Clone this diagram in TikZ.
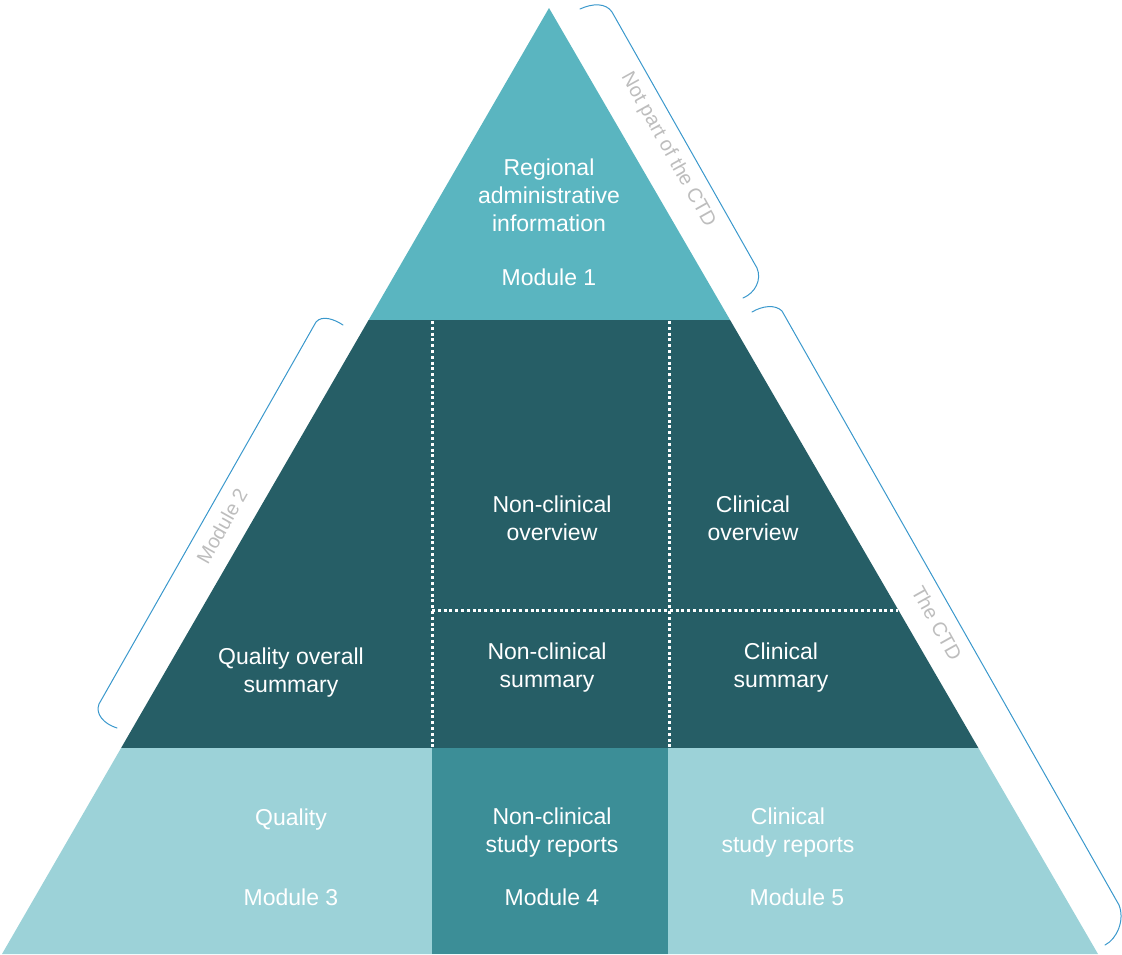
\documentclass[tikz,border=0pt]{standalone}
\usepackage{fontspec}
\setmainfont{Liberation Sans}
\definecolor{topc}{HTML}{5AB5C0}
\definecolor{darkc}{HTML}{265E66}
\definecolor{lightc}{HTML}{9CD2D8}
\definecolor{midc}{HTML}{3C8E97}
\definecolor{bracec}{HTML}{3A98CC}
\definecolor{greyc}{HTML}{BDBDBD}
\tikzset{
  lbl/.style={text=white, align=center, inner sep=0pt, font=\fontsize{23}{28}\selectfont},
  sidelbl/.style={text=greyc, inner sep=0pt, font=\fontsize{20}{24}\selectfont},
  divider/.style={white, line width=3pt, dash pattern=on 3pt off 2.8pt},
  bracepath/.style={bracec, line width=1pt, line cap=round, line join=round}
}
\begin{document}
\begin{tikzpicture}[x=1pt,y=-1pt]
\useasboundingbox (0,0) rectangle (1122,954);
% triangle sections
\coordinate (apex) at (549,8);
\coordinate (l1) at (368.6,320); \coordinate (r1) at (730.1,320);
\coordinate (l2) at (121.1,748); \coordinate (r2) at (978.4,748);
\coordinate (bl) at (2,954); \coordinate (br) at (1098,954);
\fill[topc] (apex) -- (l1) -- (r1) -- cycle;
\fill[darkc] (l1) -- (r1) -- (r2) -- (l2) -- cycle;
\fill[lightc] (l2) -- (r2) -- (br) -- (bl) -- cycle;
\fill[midc] (432,748) rectangle (668,954);
% dividers
\coordinate (v1t) at (432,321); \coordinate (v1b) at (432,748);
\coordinate (v2t) at (669,321); \coordinate (v2b) at (669,748);
\coordinate (hl) at (432,610); \coordinate (hr) at (898.3,610);
\draw[divider] (v1t) -- (v1b);
\draw[divider] (v2t) -- (v2b);
\draw[divider] (hl) -- (hr);
% texts
\node[lbl] (regional) at (549,195) {Regional\\administrative\\information};
\node[lbl] (mod1) at (549,277) {Module 1};
\node[lbl] (ncov) at (552,518) {Non-clinical\\overview};
\node[lbl] (cov) at (753,518) {Clinical\\overview};
\node[lbl] (qos) at (291,673) {Quality overall\\summary};
\node[lbl] (ncsum) at (547,668) {Non-clinical\\summary};
\node[lbl] (csum) at (781,668) {Clinical\\summary};
\node[lbl] (quality) at (291,820) {Quality};
\node[lbl] (mod3) at (291,897) {Module 3};
\node[lbl] (ncsr) at (552,833) {Non-clinical\\study reports};
\node[lbl] (mod4) at (552,897) {Module 4};
\node[lbl] (csr) at (788,833) {Clinical\\study reports};
\node[lbl] (mod5) at (797,897) {Module 5};
% braces
\draw[bracepath] (580,9) .. controls (593,3) and (606,3) .. (612,12) -- (757,268) .. controls (762,280) and (755,293) .. (743,298);
\draw[bracepath] (343,325) .. controls (334,319) and (322,315) .. (316,322) -- (99,704) .. controls (95,714) and (104,724) .. (117,728);
\draw[bracepath] (752,312) .. controls (762,306) and (775,304) .. (782,311) -- (1119,905) .. controls (1125,920) and (1117,939) .. (1105,945);
\node[sidelbl, rotate=-60.8] (notpart) at (668,150) {Not part of the CTD};
\node[sidelbl, rotate=60.5] (mod2) at (222,526) {Module 2};
\node[sidelbl, rotate=-60.8] (ctd) at (937,623) {The CTD};
\end{tikzpicture}
\end{document}
